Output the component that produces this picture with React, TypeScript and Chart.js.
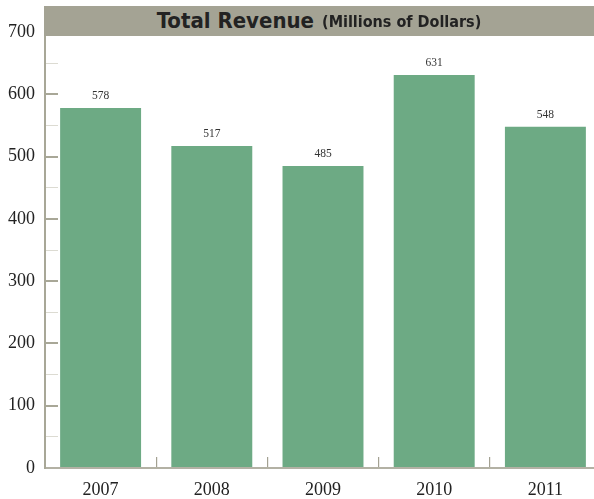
import React, { useEffect, useRef } from "react";
import { Chart, registerables } from "chart.js";

Chart.register(...registerables);

const years = ["2007", "2008", "2009", "2010", "2011"];
const revenue = [578, 517, 485, 631, 548];
const yMin = 0;
const yMax = 700;
const yMajorStep = 100;
const yMinorStep = 50;
const titleMain = "Total Revenue";
const titleSub = "(Millions of Dollars)";

const SERIF = "'Liberation Serif', 'DejaVu Serif', serif";
const NARROW = "'DejaVu Sans Condensed', 'DejaVu Sans', sans-serif";

const valueLabels = {
  id: "valueLabels",
  afterDatasetsDraw(chart: any) {
    const ctx = chart.ctx;
    const meta = chart.getDatasetMeta(0);
    const data = chart.data.datasets[0].data;
    ctx.save();
    ctx.font = "11.5px " + SERIF;
    ctx.fillStyle = "#333333";
    ctx.textAlign = "center";
    ctx.textBaseline = "bottom";
    meta.data.forEach((bar: any, i: number) => {
      ctx.fillText(String(data[i]), bar.x, bar.y - 6);
    });
    ctx.restore();
  },
};

export default function App() {
  const canvasRef = useRef<HTMLCanvasElement | null>(null);

  useEffect(() => {
    const canvas = canvasRef.current;
    if (!canvas) return;
    const chart = new Chart(canvas, {
      type: "bar",
      data: {
        labels: years,
        datasets: [
          {
            data: revenue,
            backgroundColor: "#6daa84",
            borderWidth: 0,
            categoryPercentage: 1,
            barPercentage: 0.728,
          },
        ],
      },
      plugins: [valueLabels],
      options: {
        responsive: false,
        animation: false,
        devicePixelRatio: 1,
        layout: { padding: { top: 32, left: 0, right: 0, bottom: 0 } },
        plugins: {
          legend: { display: false },
          title: { display: false },
          tooltip: { enabled: false },
        },
        scales: {
          x: {
            afterFit(scale: any) {
              scale.height = 31;
              scale.paddingLeft = 0;
              scale.paddingRight = 0;
            },
            grid: {
              offset: true,
              drawOnChartArea: false,
              drawTicks: true,
              tickLength: -11,
              color: "#a3a192",
              lineWidth: 1.2,
            },
            border: { display: true, color: "#b3b1a4", width: 2 },
            ticks: {
              padding: 22,
              color: "#222222",
              font: { family: SERIF, size: 18 },
              autoSkip: false,
              maxRotation: 0,
            },
          },
          y: {
            min: yMin,
            max: yMax,
            afterFit(scale: any) {
              scale.width = 45;
              scale.paddingTop = 0;
              scale.paddingBottom = 0;
            },
            grid: {
              drawOnChartArea: false,
              drawTicks: true,
              tickLength: -13,
              color: (c: any) =>
                c.tick && c.tick.value % yMajorStep === 0 ? "#a8a797" : "#dcdbd2",
              lineWidth: (c: any) =>
                c.tick && c.tick.value % yMajorStep === 0 ? 2 : 1,
            },
            border: { display: true, color: "#a8a797", width: 2 },
            ticks: {
              stepSize: yMinorStep,
              autoSkip: false,
              padding: 23,
              color: "#222222",
              font: { family: SERIF, size: 18 },
              callback: (v: any) => (Number(v) % yMajorStep === 0 ? String(v) : ""),
            },
          },
        },
      },
    });
    return () => chart.destroy();
  }, []);

  return (
    <div
      style={{
        position: "fixed",
        left: 0,
        top: 0,
        width: 594,
        height: 499,
        overflow: "hidden",
        background: "#ffffff",
      }}
    >
      <canvas
        ref={canvasRef}
        width={601}
        height={499}
        style={{ display: "block", width: 601, height: 499 }}
      />
      <div
        style={{
          position: "absolute",
          left: 44,
          top: 6,
          width: 550,
          height: 30,
          background: "#a4a394",
          display: "flex",
          alignItems: "center",
          justifyContent: "center",
          boxSizing: "border-box",
          fontFamily: NARROW,
          fontWeight: "bold",
          color: "#222222",
          whiteSpace: "nowrap",
        }}
      >
        <span style={{ fontSize: 22, lineHeight: "30px" }}>{titleMain}</span>
        <span style={{ fontSize: 16, lineHeight: "30px", marginLeft: 8, position: "relative", top: 1 }}>
          {titleSub}
        </span>
      </div>
    </div>
  );
}
